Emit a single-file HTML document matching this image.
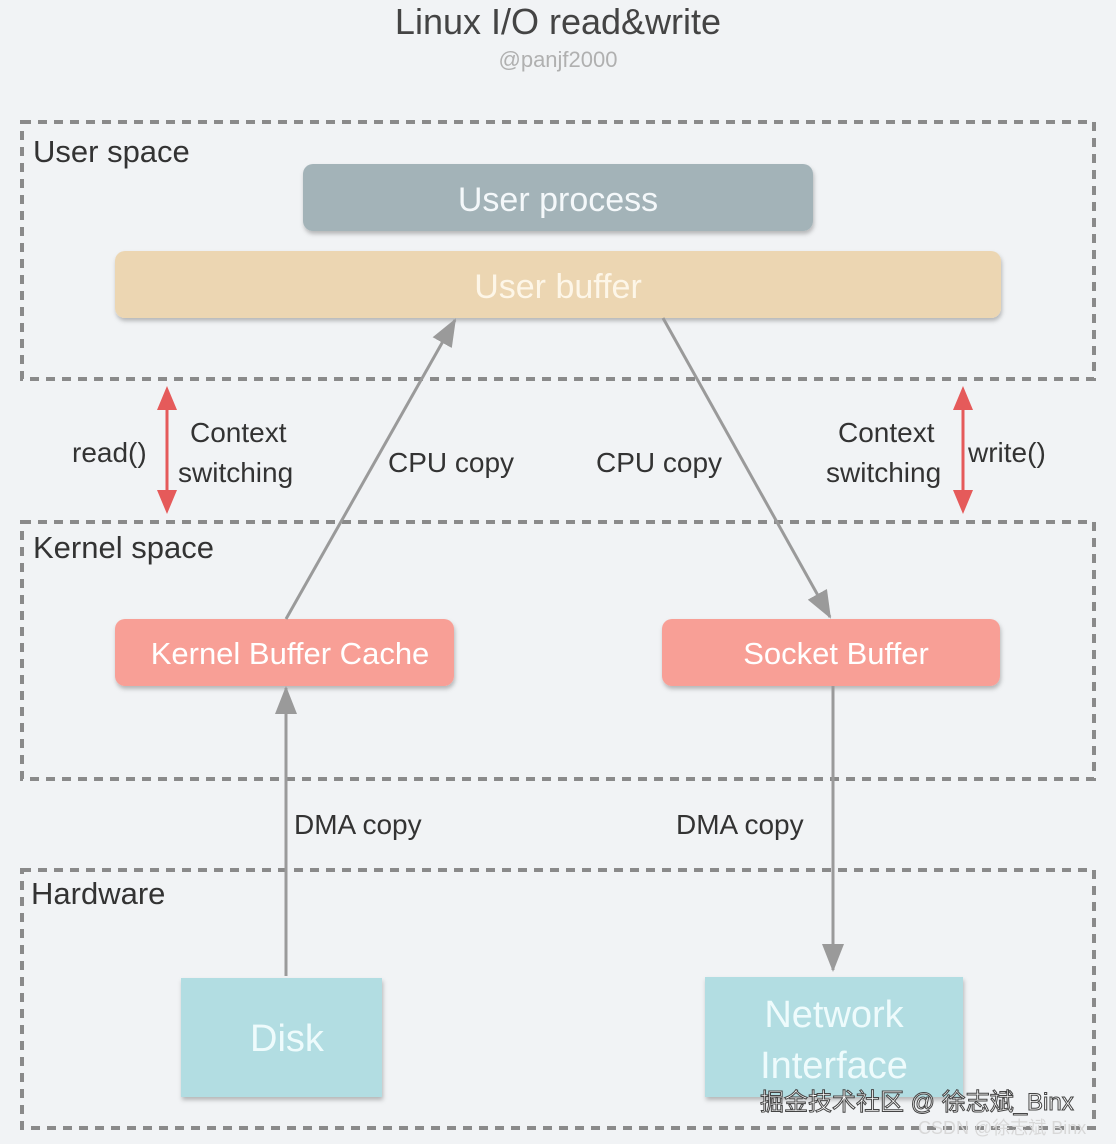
<!DOCTYPE html>
<html><head><meta charset="utf-8"><style>
html,body{margin:0;padding:0;background:#f1f3f5;}
svg{display:block;font-family:"Liberation Sans","Noto Sans CJK SC",sans-serif;}
</style></head><body>
<svg width="1116" height="1144" viewBox="0 0 1116 1144">
<defs>
<filter id="sh" x="-5%" y="-10%" width="110%" height="130%"><feDropShadow dx="1" dy="3" stdDeviation="2" flood-color="#000" flood-opacity="0.25"/></filter>
<marker id="ga" markerWidth="28" markerHeight="22" refX="26" refY="11" orient="auto" markerUnits="userSpaceOnUse" viewBox="0 0 28 22"><path d="M0,0 L28,11 L0,22 z" fill="#9a9a9a"/></marker>
</defs>
<rect width="1116" height="1144" fill="#f1f3f5"/>
<text x="558" y="34" text-anchor="middle" font-size="36" fill="#444">Linux I/O read&amp;write</text>
<text x="558" y="67" text-anchor="middle" font-size="22" fill="#b0b0b0">@panjf2000</text>
<g fill="none" stroke="#8a8a8a" stroke-width="4" stroke-dasharray="9,7">
<rect x="22" y="122" width="1072" height="257"/>
<rect x="22" y="522" width="1072" height="257"/>
<rect x="22" y="870" width="1072" height="258"/>
</g>
<g font-size="31" fill="#333">
<text x="33" y="162">User space</text>
<text x="33" y="558">Kernel space</text>
<text x="31" y="904">Hardware</text>
</g>
<g filter="url(#sh)">
<rect x="303" y="164" width="510" height="67" rx="10" fill="#a3b3b8"/>
<rect x="115" y="251" width="886" height="67" rx="10" fill="#ecd6b2"/>
<rect x="115" y="619" width="339" height="67" rx="10" fill="#f89f96"/>
<rect x="662" y="619" width="338" height="67" rx="10" fill="#f89f96"/>
<rect x="181" y="978" width="201" height="119" fill="#b2dde2"/>
<rect x="705" y="977" width="258" height="120" fill="#b2dde2"/>
</g>
<g font-size="34" text-anchor="middle">
<text x="558" y="211" fill="#f4f8fa">User process</text>
<text x="558" y="298" fill="#fdf6e8">User buffer</text>
<text x="290" y="664" font-size="31" fill="#fff">Kernel Buffer Cache</text>
<text x="836" y="664" font-size="31" fill="#fff">Socket Buffer</text>
<text x="287" y="1051" fill="#eefbfc" font-size="38">Disk</text>
<text x="834" y="1027" fill="#eefbfc" font-size="38">Network</text>
<text x="834" y="1078" fill="#eefbfc" font-size="38">Interface</text>
</g>
<g stroke="#9a9a9a" stroke-width="3" fill="none">
<line x1="286" y1="619" x2="455" y2="320" marker-end="url(#ga)"/>
<line x1="663" y1="318" x2="830" y2="617" marker-end="url(#ga)"/>
<line x1="286" y1="976" x2="286" y2="688" marker-end="url(#ga)"/>
<line x1="833" y1="686" x2="833" y2="970" marker-end="url(#ga)"/>
</g>
<g stroke="#e55a5a" stroke-width="3" fill="#e55a5a">
<line x1="167" y1="400" x2="167" y2="500"/>
<path d="M157,410 L167,386 L177,410z M157,490 L167,514 L177,490z" stroke="none"/>
<line x1="963" y1="400" x2="963" y2="500"/>
<path d="M953,410 L963,386 L973,410z M953,490 L963,514 L973,490z" stroke="none"/>
</g>
<g font-size="28" fill="#333">
<text x="72" y="462">read()</text>
<text x="190" y="442">Context</text>
<text x="178" y="482">switching</text>
<text x="388" y="472">CPU copy</text>
<text x="596" y="472">CPU copy</text>
<text x="838" y="442">Context</text>
<text x="826" y="482">switching</text>
<text x="968" y="462">write()</text>
<text x="294" y="834">DMA copy</text>
<text x="676" y="834">DMA copy</text>
</g>
<text x="760" y="1110" font-size="24" fill="#fff" stroke="#444" stroke-width="1">掘金技术社区 @ 徐志斌_Binx</text>
<text x="918" y="1134" font-size="18" fill="#d8d8d8">CSDN @徐志斌 Binx</text>
</svg>
</body></html>
